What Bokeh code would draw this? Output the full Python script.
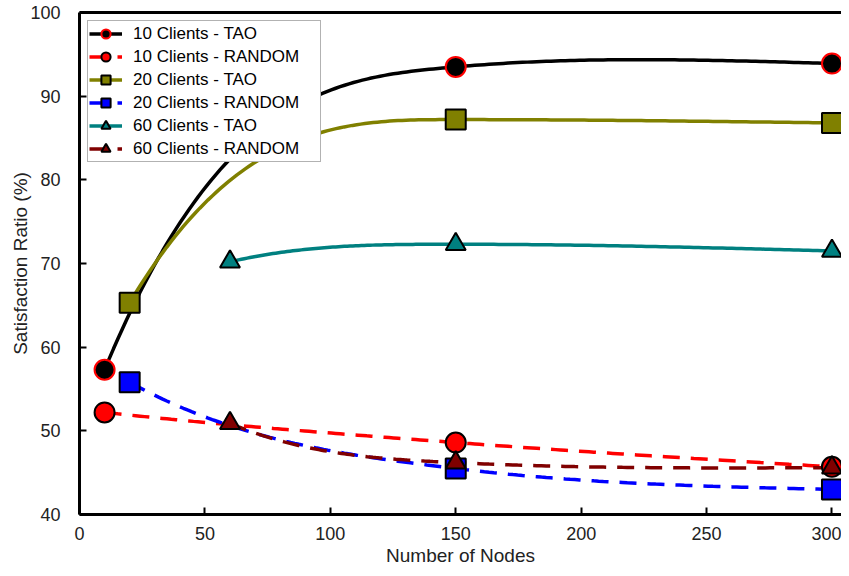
import numpy as np
from bokeh.plotting import figure
from bokeh.models import (Range1d, SingleIntervalTicker, FixedTicker, Legend,
                          LegendItem, LinearAxis)
from bokeh.embed import file_html
from bokeh.resources import INLINE

# ---- data ----
x_10 = [10, 150, 300]
tao_10 = [57.3, 93.5, 93.9]
rnd_10 = [52.2, 48.6, 45.7]

x_20 = [20, 150, 300]
tao_20 = [65.3, 87.2, 86.8]
rnd_20 = [55.8, 45.5, 43.0]

x_60 = [60, 150, 300]
tao_60 = [70.2, 72.3, 71.5]
rnd_60 = [50.9, 46.2, 45.6]

labels = ["10 Clients - TAO", "10 Clients - RANDOM", "20 Clients - TAO",
          "20 Clients - RANDOM", "60 Clients - TAO", "60 Clients - RANDOM"]


def smooth(xs, ys, n=80):
    """Smooth piecewise-cubic Hermite curve through the given points."""
    xs = np.asarray(xs, float)
    ys = np.asarray(ys, float)
    h = np.diff(xs)
    d = np.diff(ys) / h
    k = len(xs)
    m = np.zeros(k)
    for i in range(1, k - 1):
        if d[i - 1] * d[i] > 0:
            m[i] = np.sign(d[i]) * np.sqrt(d[i - 1] * d[i])
    m[0] = 3 * d[0] - 2 * m[1]
    m[-1] = (3 * d[-1] - m[-2]) / 2
    ox, oy = [], []
    for i in range(k - 1):
        t = np.linspace(0, 1, n)
        h00 = 2 * t**3 - 3 * t**2 + 1
        h10 = t**3 - 2 * t**2 + t
        h01 = -2 * t**3 + 3 * t**2
        h11 = t**3 - t**2
        yy = h00 * ys[i] + h10 * h[i] * m[i] + h01 * ys[i + 1] + h11 * h[i] * m[i + 1]
        ox.extend(list(xs[i] + t * h[i]))
        oy.extend(list(yy))
    return ox, oy


FONT = "Liberation Sans"

p = figure(width=841, height=568, output_backend="svg", toolbar_location=None,
           x_range=Range1d(0, 303.8), y_range=Range1d(40, 100),
           min_border_left=79, min_border_right=0, min_border_top=12,
           min_border_bottom=53)
p.xgrid.visible = False
p.ygrid.visible = False
p.outline_line_color = None
p.background_fill_color = "white"

# top frame line (no ticks, no labels)
top = LinearAxis(ticker=FixedTicker(ticks=[]), axis_line_width=3,
                 axis_line_color="black", major_tick_line_color=None,
                 minor_tick_line_color=None, major_label_standoff=0,
                 major_tick_in=0, major_tick_out=0)
p.add_layout(top, "above")

p.below[0].ticker = SingleIntervalTicker(interval=50)
p.left[0].ticker = SingleIntervalTicker(interval=10)
for ax in (p.below[0], p.left[0]):
    ax.axis_line_width = 3
    ax.axis_line_color = "black"
    ax.major_tick_in = 7
    ax.major_tick_out = 0
    ax.major_tick_line_width = 2
    ax.major_tick_line_color = "black"
    ax.minor_tick_line_color = None
    ax.major_label_text_font = FONT
    ax.major_label_text_font_size = "18px"
    ax.major_label_text_color = "#222222"
    ax.axis_label_text_font = FONT
    ax.axis_label_text_font_size = "19px"
    ax.axis_label_text_font_style = "normal"
    ax.axis_label_text_color = "#222222"
p.below[0].axis_label = "Number of Nodes"
p.left[0].axis_label = "Satisfaction Ratio (%)"
p.left[0].major_label_standoff = 15
p.left[0].axis_label_standoff = -4
p.below[0].major_label_standoff = 8
p.below[0].axis_label_standoff = 2

series = [
    (x_10, tao_10, "black", "solid", "circle", "black", "red"),
    (x_10, rnd_10, "red", "17 11", "circle", "red", "black"),
    (x_20, tao_20, "#808000", "solid", "square", "#808000", "black"),
    (x_20, rnd_20, "blue", "17 11", "square", "blue", "black"),
    (x_60, tao_60, "#008080", "solid", "triangle", "#008080", "black"),
    (x_60, rnd_60, "#800000", "17 11", "triangle", "#800000", "black"),
]

lines = []
for xs, ys, col, dash, mk, fill, edge in series:
    sx, sy = smooth(xs, ys)
    lines.append(p.line(sx, sy, line_color=col, line_width=3.5, line_dash=dash))

marks = []
for xs, ys, col, dash, mk, fill, edge in series:
    marks.append(p.scatter(xs, ys, marker=mk, size=20, fill_color=fill,
                           line_color=edge, line_width=2))

items = [LegendItem(label=lab, renderers=[l, s]) for lab, l, s in zip(labels, lines, marks)]
legend = Legend(items=items, location="top_left", margin=8, padding=1,
                spacing=0, glyph_width=33, glyph_height=23, label_height=23,
                label_standoff=11, label_width=186,
                label_text_font=FONT, label_text_font_size="17px",
                label_text_color="black", border_line_color="#666666",
                border_line_width=1.5, background_fill_color="white",
                background_fill_alpha=1.0)
p.add_layout(legend)

open("out.html", "w").write(file_html(p, INLINE))
